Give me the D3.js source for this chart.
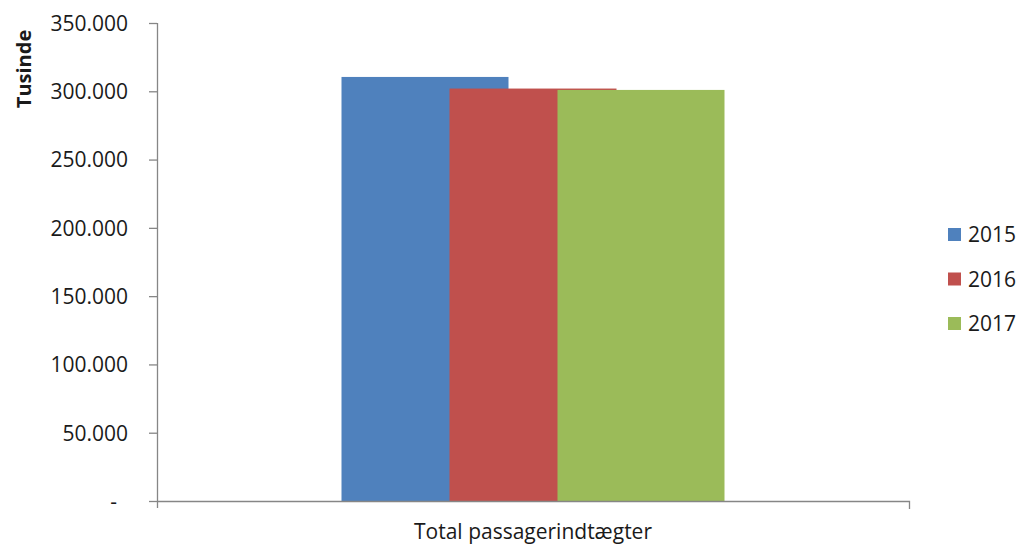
<!DOCTYPE html>
<html>
<head>
<meta charset="utf-8">
<script src="https://cdn.jsdelivr.net/npm/d3@7"></script>
<style>
  html, body { margin: 0; padding: 0; background: #fff; }
  svg text { font-family: "Open Sans", "Liberation Sans", sans-serif; fill: #1a1a1a; }
</style>
</head>
<body>
<svg id="chart" width="1018" height="545"></svg>
<script>
// data (thousands of kr)
var categories = ["Total passagerindtægter"];
var years = ["2015", "2016", "2017"];
var values2015 = [310500];
var values2016 = [302000];
var values2017 = [301000];
var yTicks = [0, 50000, 100000, 150000, 200000, 250000, 300000, 350000];
var yLabel = "Tusinde";

var seriesValues = [values2015, values2016, values2017];
var colors = ["#4F81BD", "#C0504D", "#9BBB59"];

var svg = d3.select("#chart");
var plot = {left: 157, right: 909, top: 23, bottom: 501};
var axisColor = "#868686";
var fontSize = "21px";

var x0 = d3.scaleBand()
  .domain(categories)
  .range([plot.left, plot.right]);

//Excel-style overlapping bars: each bar is wider than the step between them
var barWidth = 167;
var x1 = d3.scalePoint()
  .domain(years)
  .range([-108, 108]);

var y = d3.scaleLinear()
  .domain([0, 350000])
  .range([plot.bottom, plot.top]);

var fmt = function(v) {
  return v === 0 ? "-" : d3.format(",")(v).replace(/,/g, ".");
};

// bars, later series drawn on top
years.forEach(function(yr, si) {
  svg.append("g")
    .selectAll("rect")
    .data(seriesValues[si])
    .enter().append("rect")
      .attr("x", function(d, i) { return x0(categories[i]) + x0.bandwidth() / 2 + x1(yr) - barWidth / 2; })
      .attr("y", function(d) { return y(d); })
      .attr("width", barWidth)
      .attr("height", function(d) { return y(0) - y(d); })
      .attr("fill", colors[si]);
});

// y axis
var yAxis = svg.append("g")
  .attr("transform", "translate(" + plot.left + ",0)")
  .call(d3.axisLeft(y).tickValues(yTicks).tickSize(8).tickFormat(fmt));
yAxis.select(".domain").attr("stroke", axisColor).attr("stroke-width", 1.3)
  .attr("d", "M0.5," + plot.top + "V" + (plot.bottom + 7));
yAxis.selectAll(".tick line").attr("stroke", axisColor).attr("stroke-width", 1.3);
yAxis.selectAll(".tick text")
  .style("font-size", fontSize)
  .attr("dy", "0.35em")
  .attr("x", function(d) { return d === 0 ? -40 : -29; });

// x axis
var xAxis = svg.append("g")
  .attr("transform", "translate(0," + plot.bottom + ")")
  .call(d3.axisBottom(x0).tickSize(0).tickPadding(23));
xAxis.select(".domain").attr("stroke", axisColor).attr("stroke-width", 1.3)
  .attr("d", "M" + plot.left + ",0.5H" + (plot.right + 0.5) + "V8");
xAxis.selectAll(".tick text").style("font-size", fontSize).attr("dy", "0.71em");

// y label
svg.append("text")
  .attr("transform", "translate(31,69) rotate(-90)")
  .attr("text-anchor", "middle")
  .style("font-size", "20px")
  .style("font-weight", "bold")
  .text(yLabel);

// legend
var legend = svg.append("g")
  .selectAll("g")
  .data(years)
  .enter().append("g")
    .attr("transform", function(d, i) { return "translate(948," + (228 + i * 44.5) + ")"; });
legend.append("rect")
  .attr("width", 13).attr("height", 13)
  .attr("fill", function(d, i) { return colors[i]; });
legend.append("text")
  .attr("x", 20).attr("y", 7).attr("dy", "0.35em")
  .style("font-size", fontSize)
  .text(function(d) { return d; });
</script>
</body>
</html>
